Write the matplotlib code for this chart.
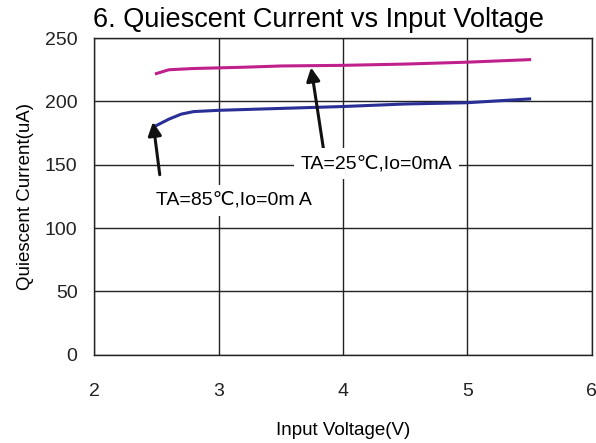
import matplotlib.pyplot as plt

plt.rcParams['font.family'] = ['Liberation Sans', 'DejaVu Sans', 'Noto Sans CJK SC']

# input voltage (V)
v_25c = [2.5, 2.6, 2.8, 3.0, 3.2, 3.5, 4.0, 4.5, 5.0, 5.5]
iq_25c = [222, 225, 226, 226.5, 227, 228, 228.5, 229.5, 231, 233]

v_85c = [2.5, 2.6, 2.7, 2.8, 3.0, 3.5, 4.0, 4.5, 5.0, 5.5]
iq_85c = [181, 186, 190, 192, 193, 194.5, 196, 198, 199, 202]

x_ticks = [2, 3, 4, 5, 6]
y_ticks = [0, 50, 100, 150, 200, 250]

fig = plt.figure(figsize=(5.96, 4.43), dpi=100)
ax = fig.add_axes([0.158, 0.199, 0.835, 0.715])

ax.plot(v_25c, iq_25c, color='#c0208c', linewidth=2.2)
ax.plot(v_85c, iq_85c, color='#2a2f96', linewidth=2.2)

ax.set_xlim(2, 6)
ax.set_ylim(0, 250)
ax.set_xticks(x_ticks)
ax.set_yticks(y_ticks)
ax.tick_params(length=0, labelsize=14, colors='#222222')
ax.tick_params(axis='x', pad=20)
ax.tick_params(axis='y', pad=12)
ax.grid(color='#222222', linewidth=1)
for s in ax.spines.values():
    s.set_color('#222222')
    s.set_linewidth(1)

ax.set_xlabel('Input Voltage(V)', fontsize=13.5, labelpad=16)
ax.set_ylabel('Quiescent Current(uA)', fontsize=13.5, labelpad=8)

arrow = dict(arrowstyle='-|>', color='#111111', linewidth=2.2, mutation_scale=20)
ax.annotate('', xy=(3.74, 229), xytext=(3.85, 158), arrowprops=arrow)
ax.annotate('', xy=(2.47, 186), xytext=(2.53, 140), arrowprops=arrow)

box = dict(facecolor='white', edgecolor='none', pad=5)
ax.text(3.66, 151, 'TA=25\u2103,Io=0mA', fontsize=14,
        va='center', ha='left', bbox=box, zorder=5)
ax.text(2.5, 122, 'TA=85\u2103,Io=0m A', fontsize=14,
        va='center', ha='left', bbox=box, zorder=5)

fig.text(0.156, 0.94, '6. Quiescent Current vs Input Voltage', fontsize=19.5,
         ha='left', va='baseline')

fig.savefig('out.png', dpi=100)
